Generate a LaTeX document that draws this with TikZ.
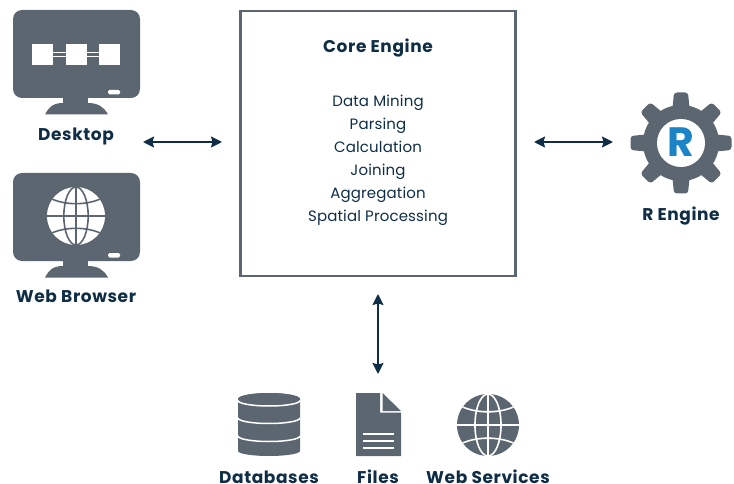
\documentclass[tikz,border=0pt]{standalone}
\usepackage{fontspec}
\setmainfont{Poppins}
\usepackage{tikz}
\usetikzlibrary{arrows.meta}
\definecolor{icongrey}{HTML}{5C6670}
\definecolor{navy}{HTML}{0F2E46}
\definecolor{rblue}{HTML}{1A84C7}
\tikzset{
  biglabel/.style={text=navy, font=\fontsize{17}{18}\selectfont\bfseries\addfontfeature{LetterSpace=3.5}, anchor=base, inner sep=0pt},
  smalllabel/.style={text=navy, font=\fontsize{15}{16}\selectfont\addfontfeature{LetterSpace=1}, anchor=base, inner sep=0pt},
  linkarrow/.style={draw=navy, line width=1.8pt, {Stealth[length=11pt,width=11pt,inset=1.5pt]}-{Stealth[length=11pt,width=11pt,inset=1.5pt]}},
}
% monitor icon, #1 = vertical offset
\newcommand{\monitoricon}[1]{
\begin{scope}[yshift=#1]
\fill[icongrey, rounded corners=9pt] (13,10) rectangle (140,98);
\fill[icongrey] (63,97) rectangle (88,104);
\fill[icongrey] (45,114.5) .. controls (49,107) and (53,103) .. (63,103) -- (88,103) .. controls (98,103) and (104,107) .. (108,114.5) -- cycle;
\fill[white, rounded corners=1.5pt] (108,90) rectangle (120,94.5);
\end{scope}
}
% globe icon, #1 = centre, #2 = radius, #3 = disc, #4 = lines
\newcommand{\globeicon}[4]{
\begin{scope}[shift={#1}]
\fill[#3] (0,0) circle (#2);
\begin{scope}
\clip (0,0) circle (#2);
\draw[#4, line width=1.6pt] (0,#2) -- (0,-#2);
\draw[#4, line width=1.6pt] (-#2,0) -- (#2,0);
\draw[#4, line width=1.6pt] (0,0) ellipse ({0.42*#2} and #2);
\draw[#4, line width=1.6pt] ({-0.9*#2},{-0.62*#2}) .. controls ({-0.4*#2},{-0.36*#2}) and ({0.4*#2},{-0.36*#2}) .. ({0.9*#2},{-0.62*#2});
\draw[#4, line width=1.6pt] ({-0.9*#2},{0.62*#2}) .. controls ({-0.4*#2},{0.36*#2}) and ({0.4*#2},{0.36*#2}) .. ({0.9*#2},{0.62*#2});
\end{scope}
\end{scope}
}
\begin{document}
\begin{tikzpicture}[x=1pt,y=-1pt]
\useasboundingbox (0,0) rectangle (734,484);

% left icons
\monitoricon{0pt}
\fill[white] (32,44) rectangle (53,65);
\fill[white] (66,44) rectangle (87,65);
\fill[white] (99,44) rectangle (120,65);
\draw[white, line width=0.7pt] (53,52) -- (66,52);
\draw[white, line width=0.7pt] (53,56.5) -- (66,56.5);
\draw[white, line width=0.7pt] (87,52) -- (99,52);
\draw[white, line width=0.7pt] (87,56.5) -- (99,56.5);
\monitoricon{-163pt}
\globeicon{(76,216)}{29}{white}{icongrey}
\node[biglabel] (desktop) at (76,140.7) {Desktop};
\node[biglabel] (browser) at (76,302.2) {Web Browser};

% core box
\node[draw=icongrey, line width=2.8pt, minimum width=275pt, minimum height=265pt, inner sep=0pt] (core) at (378,143.5) {};
\node[biglabel] (title) at (378,52.7) {Core Engine};
\node[smalllabel] (mining) at (378,106.7) {Data Mining};
\node[smalllabel] (parsing) at (378,129.7) {Parsing};
\node[smalllabel] (calc) at (378,152.7) {Calculation};
\node[smalllabel] (joining) at (378,175.7) {Joining};
\node[smalllabel] (aggr) at (378,198.7) {Aggregation};
\node[smalllabel] (spatial) at (378,221.7) {Spatial Processing};

% R engine
\begin{scope}[shift={(681,143)}]
\foreach \a in {0,45,...,315} {
  \fill[icongrey, rotate=\a, rounded corners=3pt] (-9,-30) -- (-7,-50.5) -- (7,-50.5) -- (9,-30) -- cycle;
}
\fill[icongrey] (0,0) circle (38);
\fill[white] (0,0) circle (24);
\end{scope}
\node[text=rblue, font=\fontsize{41}{41}\selectfont\bfseries, inner sep=0pt] (rletter) at (681.3,142.5) {R};
\node[biglabel] (rengine) at (681,220) {R Engine};

% databases
\fill[icongrey] (238,399) arc[start angle=180, end angle=0, x radius=31, y radius=-6] -- (300,451) arc[start angle=0, end angle=180, x radius=31, y radius=5] -- cycle;
\fill[icongrey] (269,399) ellipse (31 and 6);
\draw[white, line width=1.5pt] (238,400.5) arc[start angle=180, end angle=360, x radius=31, y radius=-5.5];
\draw[white, line width=1.5pt] (238,418) arc[start angle=180, end angle=360, x radius=31, y radius=-5.5];
\draw[white, line width=1.5pt] (238,436) arc[start angle=180, end angle=360, x radius=31, y radius=-5.5];
\node[biglabel] (databases) at (269,483) {Databases};

% files
\fill[icongrey] (356,393) -- (380,393) -- (380,412.5) -- (401,412.5) -- (401,456) -- (356,456) -- cycle;
\fill[icongrey] (382.5,393) -- (401,411) -- (382.5,411) -- cycle;
\draw[white, line width=1.5pt] (363,434) -- (394,434);
\draw[white, line width=1.5pt] (363,441) -- (394,441);
\draw[white, line width=1.5pt] (363,448) -- (394,448);
\node[biglabel] (files) at (378,483) {Files};

% web services
\globeicon{(488,425)}{31}{icongrey}{white}
\node[biglabel] (services) at (488,483) {Web Services};

% arrows
\coordinate (leftA) at (143,142);
\coordinate (leftB) at (222,142);
\coordinate (rightA) at (534,142);
\coordinate (rightB) at (613,142);
\coordinate (downA) at (378,294);
\coordinate (downB) at (378,374);
\draw[linkarrow] (leftA) -- (leftB);
\draw[linkarrow] (rightA) -- (rightB);
\draw[linkarrow] (downA) -- (downB);
\end{tikzpicture}
\end{document}
